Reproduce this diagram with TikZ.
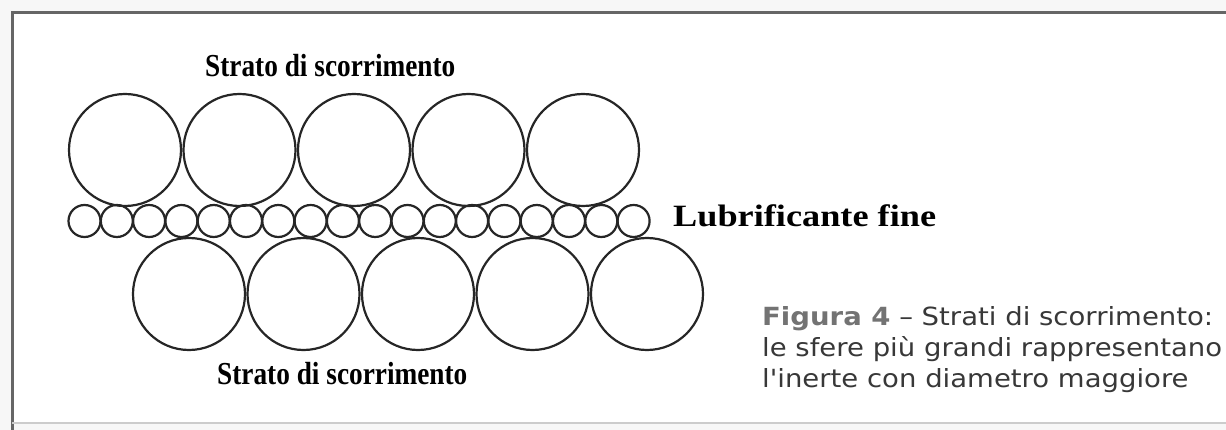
\documentclass[tikz,border=0pt]{standalone}
\usepackage{fontspec}
\setmainfont{Liberation Serif}
\newfontfamily\didafont{DejaVu Sans}
\usetikzlibrary{positioning}

\begin{document}
\begin{tikzpicture}[x=1pt,y=-1pt,
  sfera/.style={line width=2.2pt,black!85},
  titolo/.style={font=\fontsize{32}{34}\selectfont\bfseries,inner sep=0pt,anchor=base west},
  didascalia/.style={font=\didafont\fontsize{25}{30}\selectfont,text=black!78,inner sep=0pt,anchor=base west}]

  \useasboundingbox (0,0) rectangle (1226,430);
  \fill[black!3] (0,0) rectangle (1226,430);
  \fill[white] (12,13) rectangle (1226,423);
  \draw[black!60,line width=3pt] (12,430) -- (12,13) -- (1226,13);
  \draw[black!20,line width=2pt] (12,423) -- (1226,423);

  % strato superiore
  \foreach \i in {0,...,4}
    \draw[sfera] (125+114.5*\i,150) circle[radius=56];
  % lubrificante
  \foreach \i in {0,...,17}
    \draw[sfera] (84.5+32.3*\i,221) circle[radius=16];
  % strato inferiore
  \foreach \i in {0,...,4}
    \draw[sfera] (189+114.5*\i,294) circle[radius=56];

  \node[titolo] (stratosu) at (205,77) {\scalebox{0.853}[1]{Strato di scorrimento}};
  \node[titolo] (stratogiu) at (217,384) {\scalebox{0.853}[1]{Strato di scorrimento}};
  \node[titolo,font=\fontsize{31}{34}\selectfont\bfseries] (lubrificante) at (673,227) {\scalebox{1.17}[1]{Lubrificante fine}};

  \node[didascalia] (riga1) at (762,326) {\scalebox{1.1}[1]{\textbf{\color{black!55}Figura 4} – Strati di scorrimento:}};
  \node[didascalia] (riga2) at (762,356) {\scalebox{1.1}[1]{le sfere più grandi rappresentano}};
  \node[didascalia] (riga3) at (762,387) {\scalebox{1.1}[1]{l'inerte con diametro maggiore}};
\end{tikzpicture}
\end{document}
